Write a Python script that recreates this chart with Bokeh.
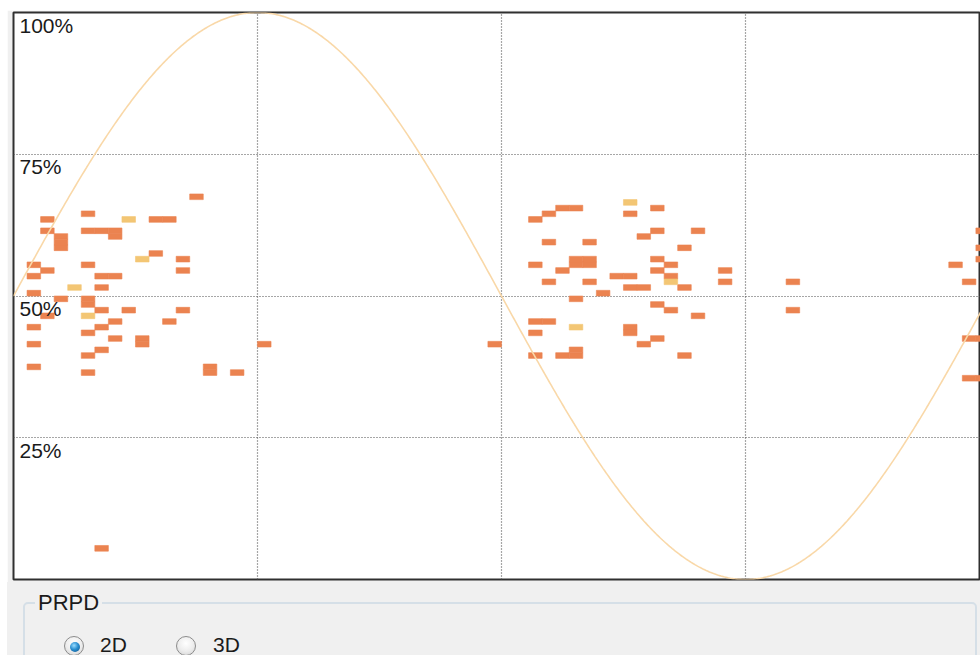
import numpy as np
from bokeh.plotting import figure
from bokeh.models import Range1d, ColumnDataSource, Div
from bokeh.layouts import column
from bokeh.core.properties import value
from bokeh.embed import file_html
from bokeh.resources import INLINE

# ---------------- data ----------------
# PRPD cells: phase bin start (degrees), amplitude bin start (%), count class
phase_deg = [
    65, 10, 25, 50, 55, 10, 25, 30, 35, 35, 15, 15, 15, 50, 60, 5, 25, 10, 60,
    5, 30, 35, 30, 5, 15, 25, 25, 30, 40, 60, 10, 35, 55, 5, 30, 25, 35, 45,
    45, 30, 5, 25, 90, 5, 70, 70, 80, 25, 30,
    40, 45, 20, 25,
    200, 205, 235, 195, 225, 190, 235, 250, 230, 195, 210, 245, 205, 210, 205,
    210, 235, 190, 240, 200, 235, 260, 220, 225, 240, 195, 210, 260, 225, 230,
    245, 215, 205, 235, 240, 250, 190, 195, 225, 225, 190, 235, 230, 205, 205,
    200, 190, 245, 175, 285, 285,
    225, 240, 205,
    355, 355, 355, 345, 350, 350, 355, 350, 355,
]
amp_pct = [
    67, 63, 64, 63, 63, 61, 61, 61, 61, 60, 60, 59, 58, 57, 56, 55, 55, 54, 54,
    53, 53, 53, 51, 50, 49, 49, 48, 47, 47, 47, 46, 45, 45, 44, 44, 43, 42, 42,
    41, 40, 41, 39, 41, 37, 37, 36, 36, 36, 5,
    63, 56, 51, 46,
    65, 65, 65, 64, 64, 63, 61, 61, 60, 59, 59, 58, 56, 56, 55, 55, 56, 55, 55,
    54, 54, 54, 53, 53, 53, 52, 52, 52, 51, 51, 51, 50, 49, 48, 47, 46, 45, 45,
    44, 43, 43, 42, 41, 40, 39, 39, 39, 39, 41, 52, 47,
    66, 52, 44,
    61, 58, 56, 55, 52, 42, 42, 35, 35,
]
count = (
    [1] * 49 + [2] * 4 +
    [1] * 51 + [2] * 3 +
    [1] * 9
)

grid_phase = [90, 180, 270]
grid_amp = [25, 50, 75]
amp_labels = ["100%", "75%", "50%", "25%"]
amp_label_pos = [100, 75, 50, 25]

PHASE_BIN = 5
AMP_BIN = 1
PHASE_VIEW_END = 356.7   # visible part of the 0-360 deg window

count_colors = {1: "#EB8350", 2: "#F3C674"}

# ---------------- figure ----------------
p = figure(width=973, height=572, output_backend="svg", toolbar_location=None,
           x_range=Range1d(0, PHASE_VIEW_END), y_range=Range1d(0, 100),
           min_border_left=6, min_border_right=0, min_border_top=2,
           min_border_bottom=3, margin=(10, 0, 0, 7))
p.background_fill_color = "white"
p.border_fill_color = "#f0f0f0"
p.outline_line_color = "#303030"
p.outline_line_width = 2
p.axis.visible = False
p.xgrid.ticker = grid_phase
p.ygrid.ticker = grid_amp
for g in (p.xgrid, p.ygrid):
    g.grid_line_color = "#4f4f4f"
    g.grid_line_dash = "1 2"
    g.grid_line_width = 1.2

src = ColumnDataSource(dict(
    left=phase_deg,
    right=[v + PHASE_BIN for v in phase_deg],
    bottom=amp_pct,
    top=[v + AMP_BIN for v in amp_pct],
    color=[count_colors[c] for c in count],
))
p.quad(left="left", right="right", bottom="bottom", top="top",
       fill_color="color", line_color="color", line_width=0.6, source=src)

# reference sine of the supply voltage
ph = np.linspace(0, 360, 721)
p.line(ph, 50 + 50 * np.sin(np.radians(ph)), line_color="#F9D8A8",
       line_width=1.6)

p.text(x=[0] * len(amp_labels), y=amp_label_pos, text=amp_labels,
       x_offset=6, y_offset=1, text_baseline="top", text_align="left",
       text_font=value("Liberation Sans"), text_font_size="21px",
       text_color="#1a1a1a")

# ---------------- PRPD group box ----------------
radio_outer = ("position:absolute;top:54px;width:20px;height:20px;"
               "border-radius:50%;border:1px solid #8c8c8c;"
               "background:radial-gradient(circle at 50% 35%,#ffffff 0%,"
               "#ececec 55%,#cdcdcd 100%);")
html = (
    '<div style="position:relative;width:973px;height:73px;'
    'background:#f0f0f0;overflow:hidden;'
    "font-family:'Liberation Sans',Arial,sans-serif;color:#1b1b1b;\">"
    '<div style="position:absolute;left:16px;top:20px;width:954px;'
    'height:90px;box-sizing:border-box;border:2px solid #d5dfe7;'
    'border-radius:5px;"></div>'
    '<span style="position:absolute;left:28px;top:9px;padding:0 3px;'
    'background:#f0f0f0;font-size:22px;line-height:24px;">PRPD</span>'
    f'<span style="{radio_outer}left:57px;"></span>'
    '<span style="position:absolute;left:63px;top:60px;width:10px;'
    'height:10px;border-radius:50%;background:radial-gradient(circle at '
    '40% 35%,#9adcff 0%,#2a8fd0 45%,#0d4f87 100%);"></span>'
    '<span style="position:absolute;left:93px;top:51px;font-size:21px;'
    'line-height:24px;">2D</span>'
    f'<span style="{radio_outer}left:169px;"></span>'
    '<span style="position:absolute;left:206px;top:51px;font-size:21px;'
    'line-height:24px;">3D</span>'
    '</div>'
)
box = Div(text=html, width=973, height=73, margin=(0, 0, 0, 7))

layout = column(p, box, spacing=0)
open("out.html", "w").write(file_html(layout, INLINE))
